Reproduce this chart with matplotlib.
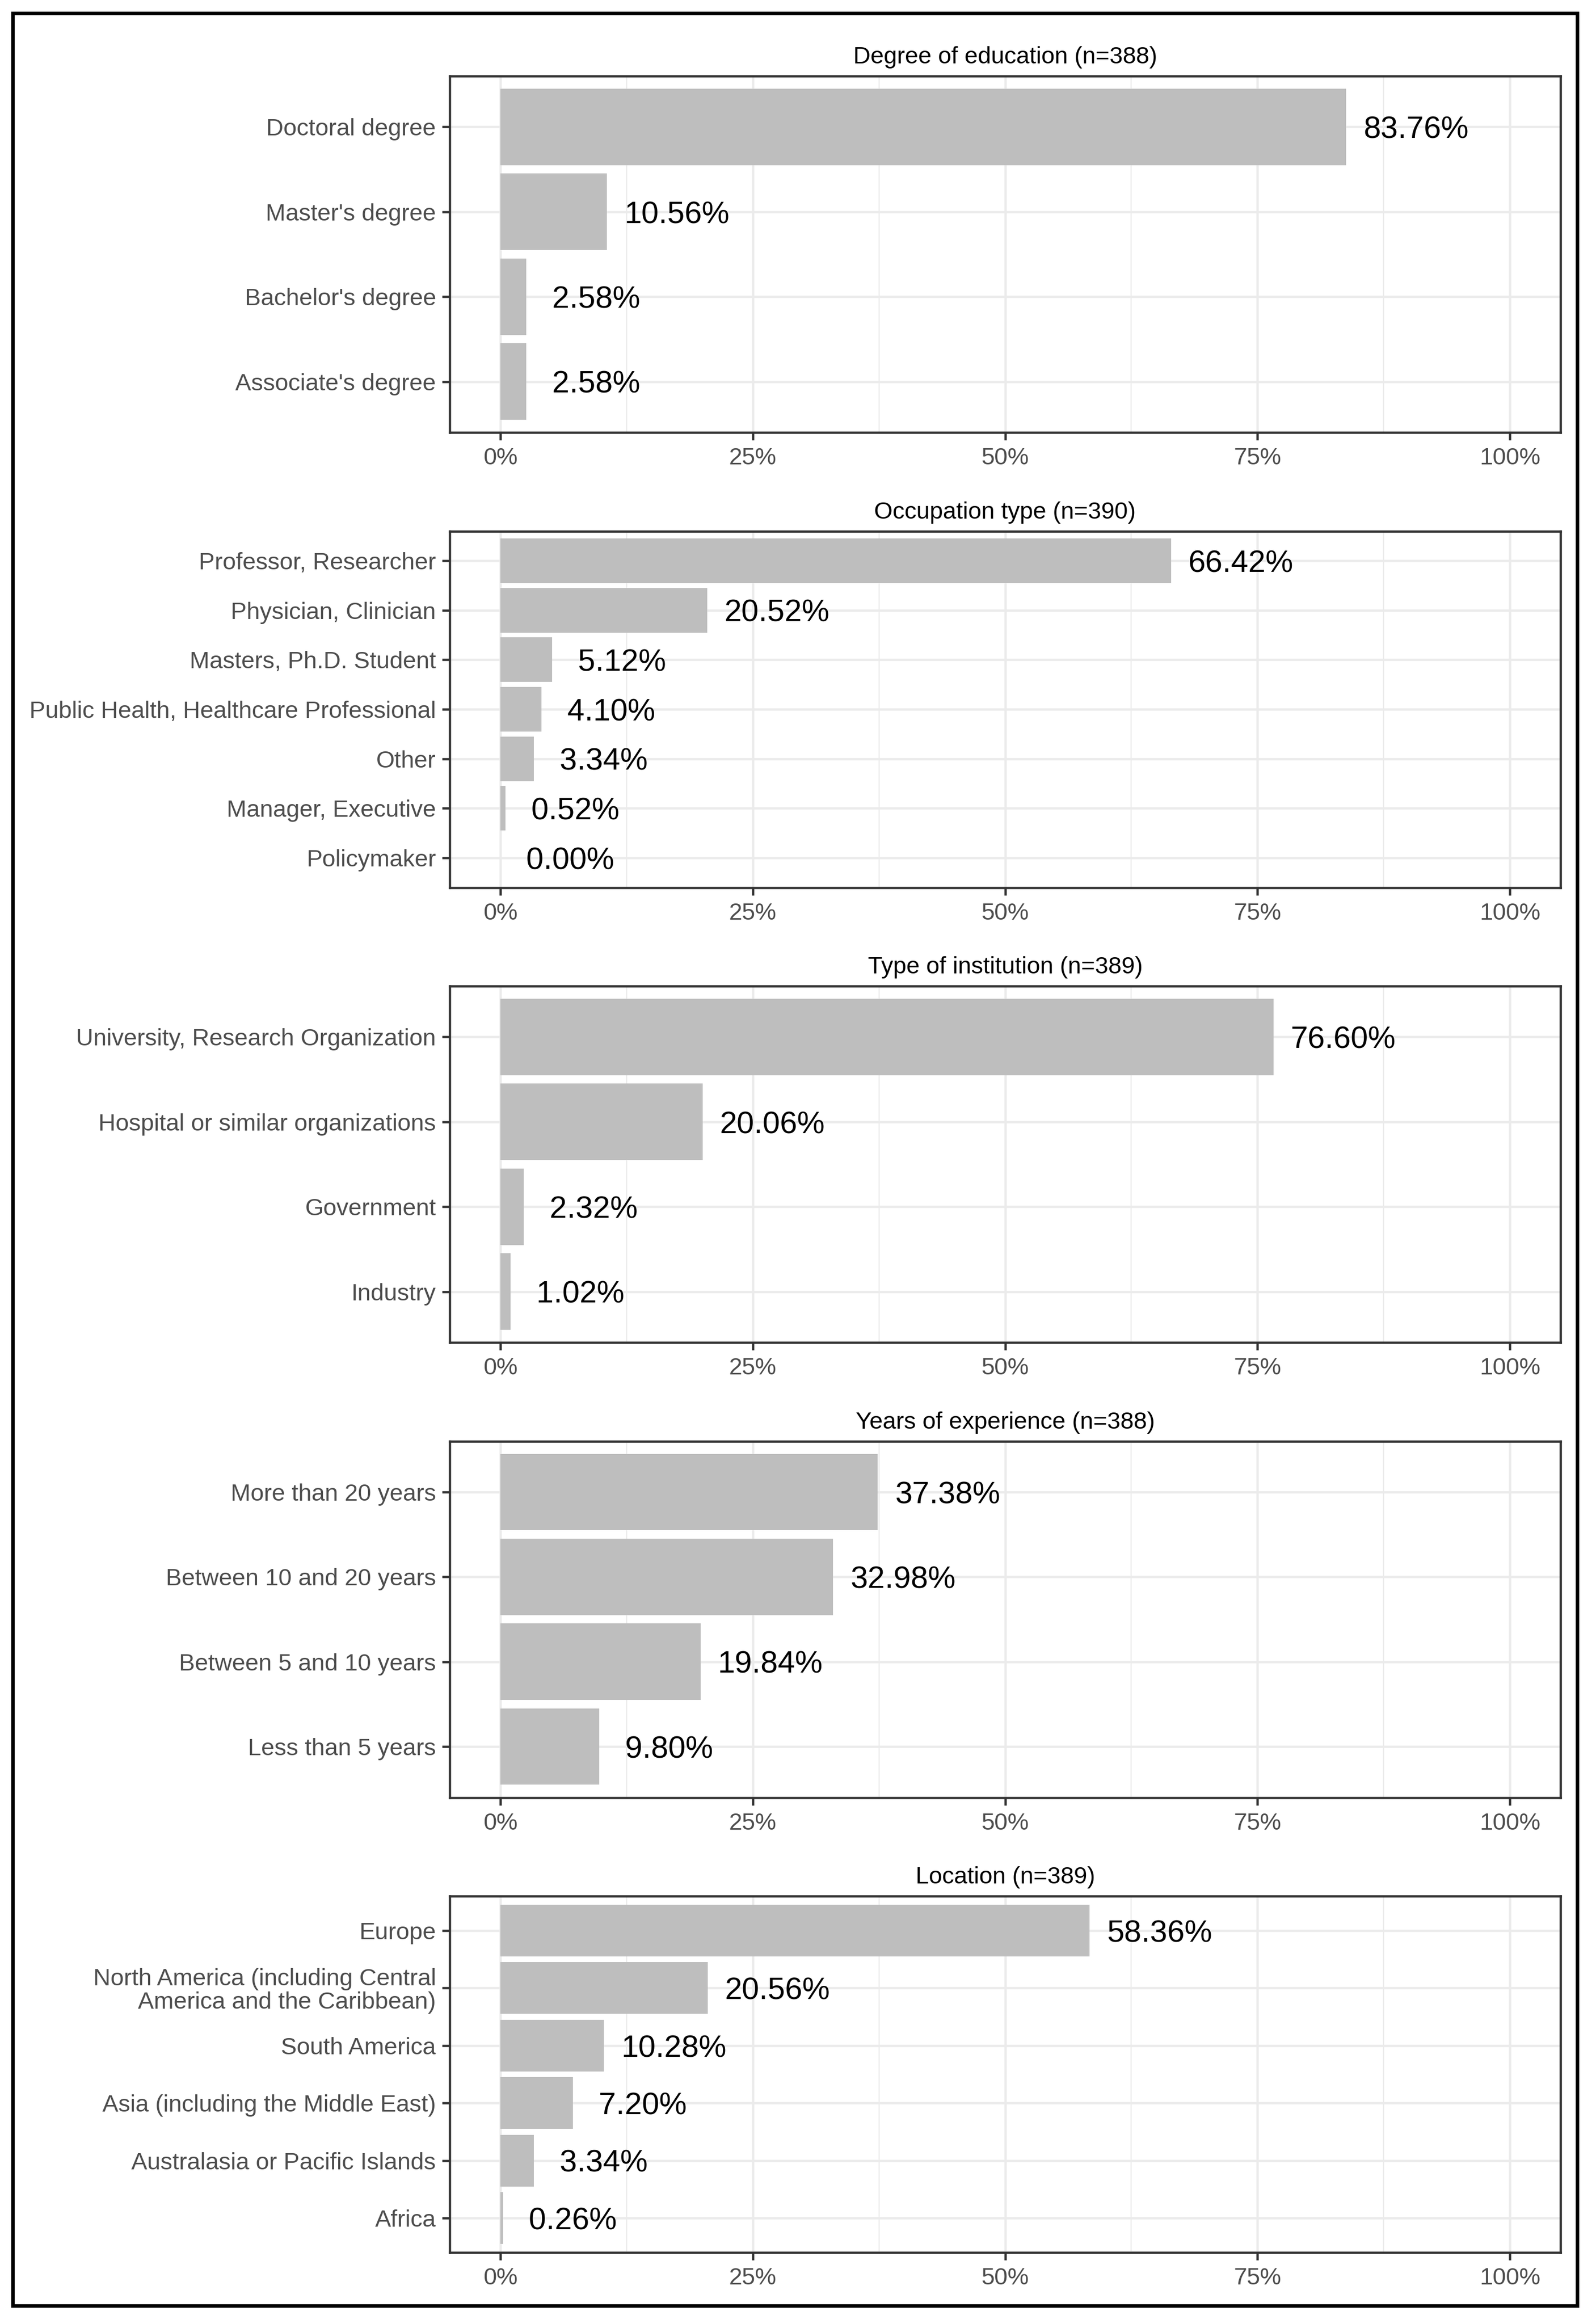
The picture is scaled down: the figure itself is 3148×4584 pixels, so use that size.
import numpy as np
import matplotlib
matplotlib.use("Agg")
import matplotlib.pyplot as plt
from matplotlib.patches import Rectangle

plt.rcParams['font.family'] = ['Liberation Sans', 'DejaVu Sans']

# ---------------- data ----------------
titles = [
    "Degree of education (n=388)",
    "Occupation type (n=390)",
    "Type of institution (n=389)",
    "Years of experience (n=388)",
    "Location (n=389)",
]

edu_cats = ["Doctoral degree", "Master's degree", "Bachelor's degree", "Associate's degree"]
edu_vals = [83.76, 10.56, 2.58, 2.58]

occ_cats = ["Professor, Researcher", "Physician, Clinician", "Masters, Ph.D. Student",
            "Public Health, Healthcare Professional", "Other", "Manager, Executive", "Policymaker"]
occ_vals = [66.42, 20.52, 5.12, 4.10, 3.34, 0.52, 0.00]

inst_cats = ["University, Research Organization", "Hospital or similar organizations",
             "Government", "Industry"]
inst_vals = [76.60, 20.06, 2.32, 1.02]

exp_cats = ["More than 20 years", "Between 10 and 20 years", "Between 5 and 10 years",
            "Less than 5 years"]
exp_vals = [37.38, 32.98, 19.84, 9.80]

loc_cats = ["Europe", "North America (including Central\nAmerica and the Caribbean)",
            "South America", "Asia (including the Middle East)",
            "Australasia or Pacific Islands", "Africa"]
loc_vals = [58.36, 20.56, 10.28, 7.20, 3.34, 0.26]

x_ticks = [0, 25, 50, 75, 100]
x_ticklabels = ["0%", "25%", "50%", "75%", "100%"]
x_minor = [12.5, 37.5, 62.5, 87.5]

panels = [(edu_cats, edu_vals), (occ_cats, occ_vals), (inst_cats, inst_vals),
          (exp_cats, exp_vals), (loc_cats, loc_vals)]

# ---------------- layout ----------------
W, H = 3148, 4584
DPI = 100
fig = plt.figure(figsize=(W / DPI, H / DPI), dpi=DPI)

BAR_C = "#BEBEBE"
GRID_C = "#EBEBEB"
BORDER_C = "#333333"
TXT_C = "#4D4D4D"
LW_MAJ = 3.25
LW_MIN = 1.6
FS = 33.8
FS_LAB = 44

left_px, right_px = 887, 3078
panel_h = 703
first_top = 150
step = 897.5

for i, (title, (cats, vals)) in enumerate(zip(titles, panels)):
    top = first_top + i * step
    ax = fig.add_axes([left_px / W, 1 - (top + panel_h) / H,
                       (right_px - left_px) / W, panel_h / H])
    n = len(cats)
    pos = np.arange(n, 0, -1)
    ax.barh(pos, vals, height=0.9, color=BAR_C, zorder=2)
    ax.set_xlim(-5, 105)
    ax.set_ylim(0.4, n + 0.6)
    ax.set_yticks(pos)
    ax.set_yticklabels(cats, fontsize=FS, color=TXT_C, linespacing=1.05)
    ax.set_xticks(x_ticks)
    ax.set_xticklabels(x_ticklabels, fontsize=FS, color=TXT_C)
    ax.set_xticks(x_minor, minor=True)
    ax.set_axisbelow(True)
    ax.grid(which='major', axis='both', color=GRID_C, lw=LW_MAJ, zorder=0)
    ax.grid(which='minor', axis='x', color=GRID_C, lw=LW_MIN, zorder=0)
    ax.tick_params(which='major', length=11, width=LW_MAJ, color=BORDER_C)
    ax.tick_params(axis='y', which='major', pad=8.5)
    ax.tick_params(axis='x', which='major', pad=10)
    ax.tick_params(which='minor', length=0)
    for sp in ax.spines.values():
        sp.set_color(BORDER_C)
        sp.set_linewidth(LW_MAJ)
        sp.set_zorder(5)
    for v, p in zip(vals, pos):
        ax.annotate(f"{v:5.2f}%", xy=(v, p), xytext=(24.5, -16),
                    textcoords='offset points', ha='left', va='baseline',
                    fontsize=FS_LAB, color='black', zorder=4)
    ax.annotate(title, xy=(0.5, 1.0), xycoords='axes fraction',
                xytext=(0, 18), textcoords='offset points',
                ha='center', va='baseline', fontsize=FS, color='black')

# outer black frame
fig.patches.append(Rectangle((25 / W, 1 - 4548 / H), (3111 - 25) / W, (4548 - 25.5) / H,
                             transform=fig.transFigure, fill=False,
                             edgecolor='black', linewidth=5, zorder=10))

fig.savefig("out.png", dpi=DPI, facecolor='white')
